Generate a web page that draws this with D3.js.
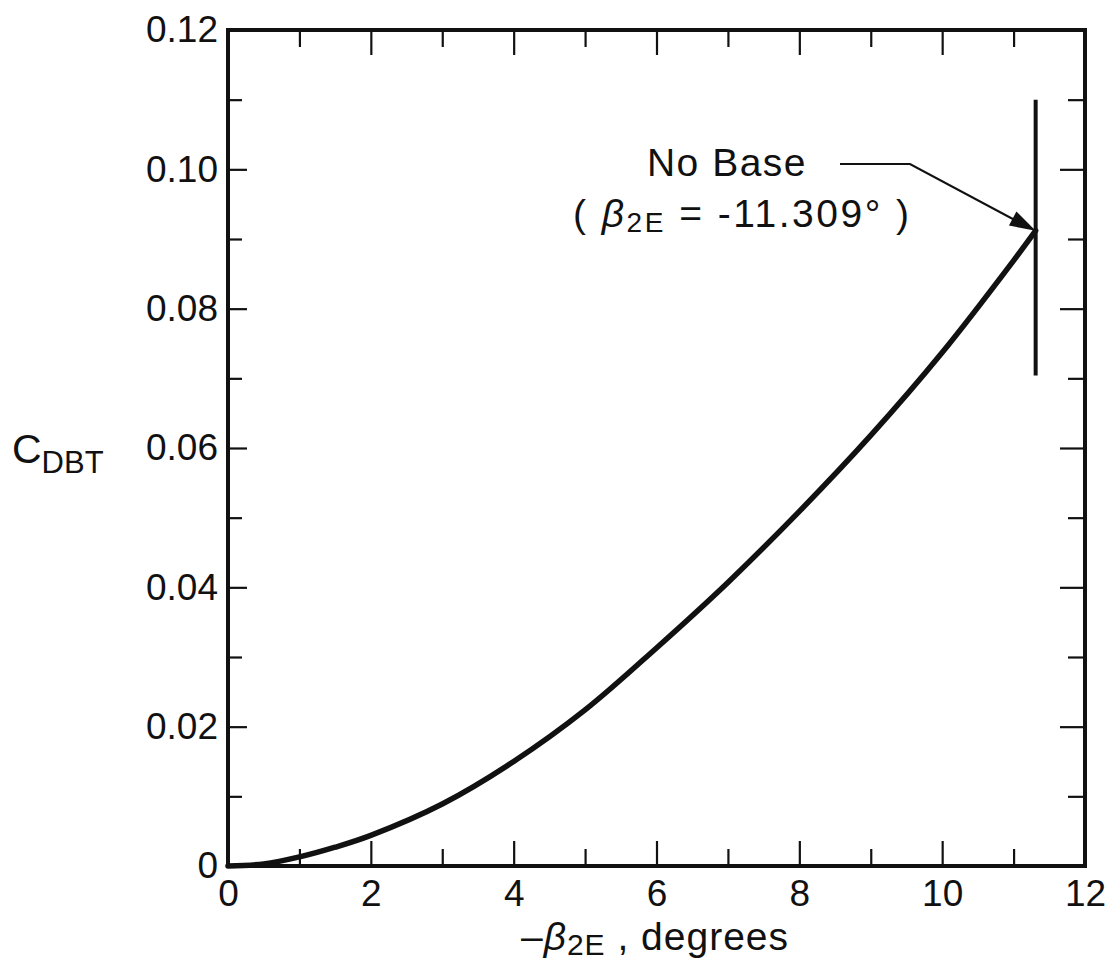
<!DOCTYPE html>
<html>
<head>
<meta charset="utf-8">
<script src="https://cdn.jsdelivr.net/npm/d3@7"></script>
<style>
  html, body { margin: 0; padding: 0; background: #fff; }
  svg { display: block; }
  text { font-family: "Liberation Sans", "DejaVu Sans", sans-serif; fill: #111; }
</style>
</head>
<body>
<svg id="chart" width="1116" height="968"></svg>
<script>
// Base drag coefficient vs. exit flow angle
const betaDeg = [0, 0.5, 1, 1.5, 2, 3, 4, 5, 6, 7, 8, 9, 10, 11, 11.309];
const cdbt    = [0, 0.0003, 0.0013, 0.0027, 0.0044, 0.0089, 0.0150, 0.0224, 0.0313, 0.0407, 0.0509, 0.0618, 0.0737, 0.0869, 0.0912];

const xMajorTicks = [0, 2, 4, 6, 8, 10, 12];
const xMinorTicks = [1, 3, 5, 7, 9, 11];
const yMajorTicks = [0, 0.02, 0.04, 0.06, 0.08, 0.10, 0.12];
const yMinorTicks = [0.01, 0.03, 0.05, 0.07, 0.09, 0.11];

// "No Base" limit marker
const noBaseBeta = 11.309;
const noBaseRange = [0.0704, 0.110];

const svg = d3.select("#chart");
const plotL = 228, plotR = 1085, plotT = 30, plotB = 866;

const x = d3.scaleLinear().domain([0, 12]).range([plotL, plotR]);
const y = d3.scaleLinear().domain([0, 0.12]).range([plotB, plotT]);

const fmtY = d => d === 0 ? "0" : d3.format(".2f")(d);
const fontSize = 37;

function styleAxis(g) {
  g.select(".domain").remove();
  g.selectAll(".tick line").attr("stroke", "#111").attr("stroke-width", 2.2);
  g.selectAll(".tick text").attr("font-size", fontSize).attr("fill", "#111")
    .attr("font-family", "'Liberation Sans', sans-serif");
}

const MAJ = 25, MIN = 17;

// bottom
svg.append("g").attr("transform", `translate(0,${plotB})`)
  .call(d3.axisBottom(x).tickValues(xMajorTicks).tickSizeInner(-MAJ).tickSizeOuter(0).tickPadding(14).tickFormat(d3.format("d")))
  .call(styleAxis);
svg.append("g").attr("transform", `translate(0,${plotB})`)
  .call(d3.axisBottom(x).tickValues(xMinorTicks).tickSizeInner(-MIN).tickSizeOuter(0).tickFormat(""))
  .call(styleAxis);
// top
svg.append("g").attr("transform", `translate(0,${plotT})`)
  .call(d3.axisTop(x).tickValues(xMajorTicks).tickSizeInner(-MAJ).tickSizeOuter(0).tickFormat(""))
  .call(styleAxis);
svg.append("g").attr("transform", `translate(0,${plotT})`)
  .call(d3.axisTop(x).tickValues(xMinorTicks).tickSizeInner(-MIN).tickSizeOuter(0).tickFormat(""))
  .call(styleAxis);
// left
svg.append("g").attr("transform", `translate(${plotL},0)`)
  .call(d3.axisLeft(y).tickValues(yMajorTicks).tickSizeInner(-MAJ + 6).tickSizeOuter(0).tickPadding(10).tickFormat(fmtY))
  .call(styleAxis);
svg.append("g").attr("transform", `translate(${plotL},0)`)
  .call(d3.axisLeft(y).tickValues(yMinorTicks).tickSizeInner(-MIN + 3).tickSizeOuter(0).tickFormat(""))
  .call(styleAxis);
// right
svg.append("g").attr("transform", `translate(${plotR},0)`)
  .call(d3.axisRight(y).tickValues(yMajorTicks).tickSizeInner(-MAJ).tickSizeOuter(0).tickFormat(""))
  .call(styleAxis);
svg.append("g").attr("transform", `translate(${plotR},0)`)
  .call(d3.axisRight(y).tickValues(yMinorTicks).tickSizeInner(-MIN).tickSizeOuter(0).tickFormat(""))
  .call(styleAxis);

// frame
svg.append("rect")
  .attr("x", plotL).attr("y", plotT)
  .attr("width", plotR - plotL).attr("height", plotB - plotT)
  .attr("fill", "none").attr("stroke", "#111").attr("stroke-width", 4);

// curve
const pts = betaDeg.map((b, i) => [b, cdbt[i]]);
svg.append("path")
  .datum(pts)
  .attr("fill", "none")
  .attr("stroke", "#111")
  .attr("stroke-width", 5.5)
  .attr("stroke-linecap", "round")
  .attr("d", d3.line().x(d => x(d[0])).y(d => y(d[1])).curve(d3.curveCatmullRom.alpha(0.5)));

// vertical "no base" bar
svg.append("line")
  .attr("x1", x(noBaseBeta)).attr("x2", x(noBaseBeta))
  .attr("y1", y(noBaseRange[0])).attr("y2", y(noBaseRange[1]))
  .attr("stroke", "#111").attr("stroke-width", 4);

// annotation arrow
const tipX = x(noBaseBeta), tipY = y(cdbt[cdbt.length - 1]);
const bendX = 910, bendY = 164, startX = 840;
svg.append("path")
  .attr("d", `M${startX},${bendY}L${bendX},${bendY}L${tipX - 14},${tipY - 7}`)
  .attr("fill", "none").attr("stroke", "#111").attr("stroke-width", 2.2);
{
  const ang = Math.atan2(tipY - bendY, tipX - bendX);
  const len = 26, half = 8;
  const bx = tipX - len * Math.cos(ang), by = tipY - len * Math.sin(ang);
  const px = -Math.sin(ang) * half, py = Math.cos(ang) * half;
  svg.append("path")
    .attr("d", `M${tipX},${tipY}L${bx + px},${by + py}L${bx - px},${by - py}Z`)
    .attr("fill", "#111");
}

// annotation text
svg.append("text")
  .attr("x", 727).attr("y", 176)
  .attr("text-anchor", "middle")
  .attr("font-size", 39)
  .attr("letter-spacing", 1.5)
  .text("No Base");

const ann = svg.append("text")
  .attr("x", 573).attr("y", 227)
  .attr("font-size", 39)
  .attr("letter-spacing", 2.5);
ann.append("tspan").text("( ");
ann.append("tspan").attr("font-style", "italic").text("β");
ann.append("tspan").attr("font-size", 28).attr("dy", 5).text("2E");
ann.append("tspan").attr("dy", -5).text(" = -11.309° )");

// x axis title
const xt = svg.append("text")
  .attr("x", 655).attr("y", 950)
  .attr("text-anchor", "middle")
  .attr("font-size", 39)
  .attr("letter-spacing", 1);
xt.append("tspan").text("–");
xt.append("tspan").attr("font-style", "italic").text("β");
xt.append("tspan").attr("font-size", 30).attr("dy", 5).text("2E");
xt.append("tspan").attr("dy", -5).text(" , degrees");

// y axis title
const yt = svg.append("text")
  .attr("x", 12).attr("y", 463)
  .attr("font-size", 41);
yt.append("tspan").text("C");
yt.append("tspan").attr("font-size", 31).attr("dy", 10).text("DBT");
</script>
</body>
</html>
